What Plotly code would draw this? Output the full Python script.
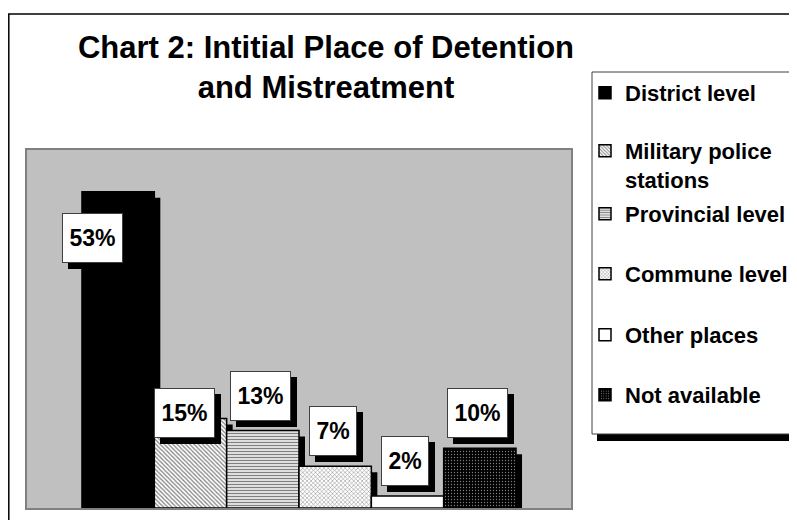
import plotly.graph_objects as go

# ---- data ----
categories = ["District level", "Military police<br>stations", "Provincial level",
              "Commune level", "Other places", "Not available"]
values = [53, 15, 13, 7, 2, 10]
label_texts = [f"{v}%" for v in values]

# ---- styling ----
FONT = "Liberation Sans, Arial, sans-serif"
LABEL_SIZE = 23
patterns = [
    dict(shape="", bgcolor="black", fgcolor="black"),
    dict(shape="\\", size=3, solidity=0.4, fgcolor="black", bgcolor="white"),
    dict(shape="-", size=3, solidity=0.5, fgcolor="black", bgcolor="white"),
    dict(shape="x", size=3, solidity=0.3, fgcolor="black", bgcolor="white"),
    dict(shape="", bgcolor="white", fgcolor="white"),
    dict(shape=".", size=3, solidity=0.15, fgcolor="white", bgcolor="black"),
]
fill_colors = ["black", "white", "white", "white", "white", "black"]
label_dx = [-0.36, -0.08, -0.03, -0.03, -0.03, -0.03]
label_dy = [-7.75, 0.92, 5.85, 5.9, 5.96, 5.92]
shadow_dx = 0.083
shadow_dy = 1.0
legend_center_px = [93, 165.5, 214, 274, 335, 395]

# geometry (window pixels); the page body adds an 8px offset
OFF = 8
WIN_W, WIN_H = 797, 520
W, H = WIN_W - OFF, WIN_H - OFF
L, R, T, B = 27, 571, 150, 508


def py(p):
    return (B - p) / (B - T)


def px(p):
    return (p - L) / (R - L)


def text_width(t):
    # approx. bold Arial advance widths
    return sum(0.889 if ch == "%" else 0.556 for ch in t) * LABEL_SIZE + 1


fig = go.Figure()

# drop shadows of bars
for i, v in enumerate(values):
    fig.add_trace(go.Bar(
        x=[i + shadow_dx], y=[v - shadow_dy], width=1,
        marker=dict(color="black", line=dict(width=0)),
        showlegend=False, hoverinfo="skip",
    ))

# main bars
for i, (c, v) in enumerate(zip(categories, values)):
    fig.add_trace(go.Bar(
        x=[i], y=[v], width=1, name=c,
        marker=dict(color=fill_colors[i], pattern=patterns[i],
                    line=dict(color="black", width=1.5)),
        legend="legend" if i == 0 else f"legend{i+1}",
    ))

# label annotations (shadow box first, then white box with text)
for i, (v, t) in enumerate(zip(values, label_texts)):
    common = dict(x=i + label_dx[i], y=v + label_dy[i], xref="x", yref="y",
                  showarrow=False, xanchor="center", yanchor="middle",
                  width=text_width(t), height=36, borderpad=6, borderwidth=1,
                  font=dict(family=FONT, size=LABEL_SIZE, color="black", weight="bold"))
    fig.add_annotation(**common, text="&nbsp;", xshift=6, yshift=-6,
                       bgcolor="black", bordercolor="black")
    fig.add_annotation(**common, text=t, bgcolor="white", bordercolor="#404040")

# legends
legend_common = dict(bgcolor="rgba(0,0,0,0)", borderwidth=0, xanchor="left", yanchor="middle",
                     x=px(585), valign="top",
                     font=dict(family=FONT, size=22, color="black", weight="bold"),
                     itemclick=False, itemdoubleclick=False)
legends = {}
for i, c in enumerate(legend_center_px):
    key = "legend" if i == 0 else f"legend{i+1}"
    legends[key] = dict(legend_common, y=py(c))

shapes = [
    # outer frame
    dict(type="rect", xref="paper", yref="paper", x0=px(8.8), x1=px(810), y0=py(530), y1=py(14),
         line=dict(color="black", width=1.5), fillcolor="rgba(0,0,0,0)", layer="above"),
    # legend shadow
    dict(type="rect", xref="paper", yref="paper", x0=px(597), x1=px(815), y0=py(441), y1=py(78),
         line=dict(width=0), fillcolor="black", layer="above"),
    # legend frame
    dict(type="rect", xref="paper", yref="paper", x0=px(592), x1=px(810), y0=py(434), y1=py(72),
         line=dict(color="#404040", width=1), fillcolor="white", layer="above"),
]

fig.update_layout(
    width=W, height=H,
    margin=dict(l=L - OFF, r=WIN_W - R, t=T - OFF, b=WIN_H - B, pad=0, autoexpand=False),
    paper_bgcolor="white", plot_bgcolor="#C0C0C0",
    barmode="overlay",
    title=dict(text="Chart 2: Intitial Place of Detention<br>and Mistreatment",
               x=px(326), xanchor="center", xref="paper",
               y=1 - 50 / H, yanchor="top", yref="container",
               font=dict(family=FONT, size=31, color="black", weight="bold")),
    xaxis=dict(range=[-1.26, 6.26], showticklabels=False, ticks="", showgrid=False,
               zeroline=False, showline=True, mirror=True, linecolor="#808080", linewidth=2,
               fixedrange=True),
    yaxis=dict(range=[0, 60], showticklabels=False, ticks="", showgrid=False,
               zeroline=False, showline=True, mirror=True, linecolor="#808080", linewidth=2,
               fixedrange=True),
    shapes=shapes,
    showlegend=True,
    **legends,
)

fig.write_html("out.html")
